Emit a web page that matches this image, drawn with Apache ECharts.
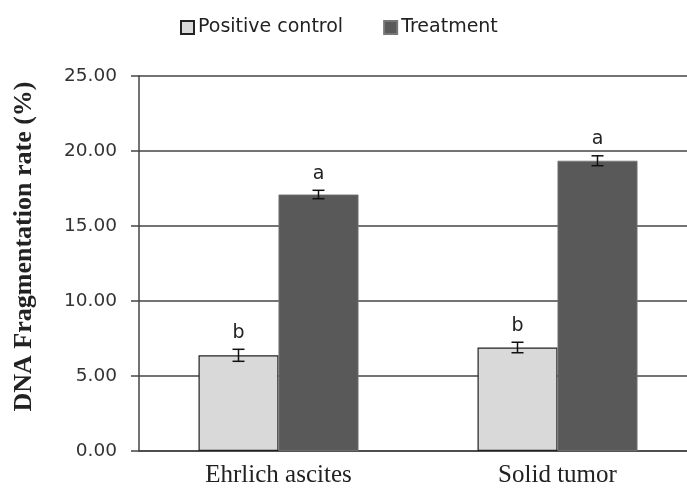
<!DOCTYPE html>
<html>
<head>
<meta charset="utf-8">
<script src="https://cdn.jsdelivr.net/npm/echarts@6/dist/echarts.min.js"></script>
<style>html,body{margin:0;padding:0;background:#fff;overflow:hidden}#c{width:697px;height:488px}</style>
</head>
<body>
<div id="c"></div>
<script>
const categories = ['Ehrlich ascites', 'Solid tumor'];
const controlValues = [6.38, 6.9];
const controlErrors = [0.4, 0.35];
const controlLetters = ['b', 'b'];
const treatmentValues = [17.1, 19.35];
const treatmentErrors = [0.28, 0.33];
const treatmentLetters = ['a', 'a'];
const yTicks = [0, 5, 10, 15, 20, 25];

const SANS = '"DejaVu Sans", sans-serif';
const SERIF = '"Liberation Serif", "Times New Roman", serif';
const chart = echarts.init(document.getElementById('c'));
const BAR_W = 80;

function errSeries(name, values, errors, letters, sign) {
  return {
    type: 'custom',
    name: name + ' err',
    z: 10,
    silent: true,
    data: values.map((v, i) => [i, v, errors[i]]),
    renderItem: function (params, api) {
      const i = api.value(0), v = api.value(1), e = api.value(2);
      const c = api.coord([i, v]);
      const x = c[0] + sign * BAR_W / 2;
      const yHi = api.coord([i, v + e])[1];
      const yLo = api.coord([i, v - e])[1];
      const cap = 6;
      const st = { stroke: '#111', lineWidth: 1.5 };
      return {
        type: 'group',
        children: [
          { type: 'line', shape: { x1: x, y1: yHi, x2: x, y2: yLo }, style: st },
          { type: 'line', shape: { x1: x - cap, y1: yHi, x2: x + cap, y2: yHi }, style: st },
          { type: 'line', shape: { x1: x - cap, y1: yLo, x2: x + cap, y2: yLo }, style: st },
          { type: 'text', style: { x: x, y: yHi - 7, text: letters[params.dataIndex], align: 'center', verticalAlign: 'bottom', font: '19px ' + SANS, fill: '#222' } }
        ]
      };
    }
  };
}

chart.setOption({
  animation: false,
  legend: {
    top: 13,
    left: 175,
    itemWidth: 13,
    itemHeight: 13,
    itemGap: 40,
    icon: 'rect',
    textStyle: { fontFamily: SANS, fontSize: 19, color: '#222', padding: [0, 0, 0, -1] },
    data: ['Positive control', 'Treatment']
  },
  grid: { left: 139, top: 76, bottom: 35, right: 0, containLabel: false },
  xAxis: {
    type: 'category',
    data: categories,
    axisLine: { lineStyle: { color: '#444', width: 1.5 } },
    axisTick: { show: false },
    axisLabel: { fontFamily: SERIF, fontSize: 25, color: '#222', margin: 12 }
  },
  yAxis: {
    type: 'value',
    min: 0, max: 25, interval: 5,
    name: 'DNA Fragmentation rate (%)',
    nameLocation: 'middle',
    nameGap: 102,
    nameRotate: 90,
    nameTextStyle: { fontFamily: SERIF, fontSize: 26, fontWeight: 'bold', color: '#222', padding: [0, 0, 0, 34] },
    axisLine: { show: true, lineStyle: { color: '#444', width: 1.5 } },
    axisTick: { show: true, length: 8, lineStyle: { color: '#444', width: 1.5 } },
    axisLabel: { fontFamily: SANS, fontSize: 18.5, color: '#333', margin: 22, formatter: v => yTicks.includes(v) ? v.toFixed(2) : '' },
    splitLine: { lineStyle: { color: '#444', width: 1.5 } }
  },
  series: [
    {
      name: 'Positive control', type: 'bar', data: controlValues,
      barWidth: BAR_W, barGap: '0%',
      itemStyle: { color: '#d9d9d9', borderColor: '#222', borderWidth: 1.2 }
    },
    {
      name: 'Treatment', type: 'bar', data: treatmentValues,
      barWidth: BAR_W, barGap: '0%',
      itemStyle: { color: '#595959', borderColor: '#777', borderWidth: 0.8 }
    },
    errSeries('Positive control', controlValues, controlErrors, controlLetters, -1),
    errSeries('Treatment', treatmentValues, treatmentErrors, treatmentLetters, 1)
  ]
});
</script>
</body>
</html>
